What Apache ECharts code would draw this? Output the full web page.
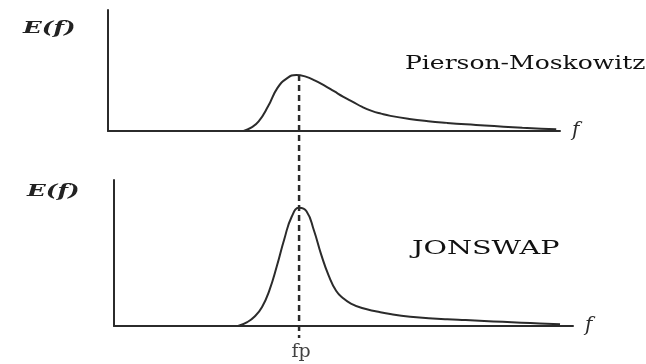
<!DOCTYPE html>
<html>
<head>
<meta charset="utf-8">
<script src="https://cdn.jsdelivr.net/npm/echarts@6/dist/echarts.min.js"></script>
<style>
  html, body { margin: 0; padding: 0; background: #fff; }
  #box { width: 646px; height: 364px; }
</style>
</head>
<body>
<div id="box"></div>
<script>
  // frequency in units of fp, energy in units of the PM peak
  const pmFreq = [0.72, 0.76, 0.80, 0.85, 0.90, 0.95, 1.00, 1.05, 1.10, 1.15, 1.20, 1.25, 1.30, 1.35, 1.40, 1.45, 1.50, 1.60, 1.70, 1.80, 1.90, 2.00, 2.10, 2.20, 2.30, 2.38]
  const pmEnergy = [0, 0.06, 0.17, 0.44, 0.77, 0.94, 1.0, 0.97, 0.90, 0.81, 0.71, 0.61, 0.52, 0.43, 0.36, 0.31, 0.27, 0.215, 0.175, 0.145, 0.12, 0.10, 0.078, 0.058, 0.042, 0.03]
  const jsFreq = [0.67, 0.72, 0.76, 0.80, 0.84, 0.88, 0.92, 0.96, 1.00, 1.04, 1.08, 1.12, 1.16, 1.20, 1.24, 1.28, 1.34, 1.42, 1.50, 1.60, 1.70, 1.80, 1.90, 2.00, 2.10, 2.20, 2.30, 2.41]
  const jsEnergy = [0, 0.07, 0.17, 0.34, 0.64, 1.07, 1.55, 1.95, 2.11, 2.05, 1.71, 1.27, 0.90, 0.63, 0.49, 0.40, 0.32, 0.26, 0.21, 0.166, 0.14, 0.12, 0.105, 0.09, 0.075, 0.06, 0.045, 0.03]
  const fp = 1.0
  const labels = ['Pierson-Moskowitz', 'JONSWAP']

  const ink = '#2b2b2b'
  let myChart = echarts.init(document.getElementById('box'))

  function pairs(xs, ys) {
    return xs.map((x, i) => [x, ys[i]])
  }

  function freqAxis(idx, max, show) {
    return {
      type: 'value', gridIndex: idx, min: 0, max: max,
      show: show,
      axisLine: { show: true, onZero: false, lineStyle: { color: ink, width: 2 } },
      axisTick: { show: false }, axisLabel: { show: false }, splitLine: { show: false },
      name: show ? 'f' : '', nameLocation: 'end', nameGap: 12,
      nameTextStyle: { fontFamily: 'DejaVu Serif', fontStyle: 'italic', fontSize: 20, color: ink, verticalAlign: 'middle' }
    }
  }
  function energyAxis(idx, max, show) {
    return {
      type: 'value', gridIndex: idx, min: 0, max: max,
      show: show,
      axisLine: { show: true, lineStyle: { color: ink, width: 2 } },
      axisTick: { show: false }, axisLabel: { show: false }, splitLine: { show: false }
    }
  }

  let option = {
    animation: false,
    grid: [
      { left: 108, top: 10, width: 452, height: 121 },
      { left: 114, top: 180, width: 459, height: 146 },
      { left: 114, top: 75, width: 459, height: 263 }
    ],
    xAxis: [freqAxis(0, 2.4, true), freqAxis(1, 2.48, true), freqAxis(2, 2.48, false)],
    yAxis: [energyAxis(0, 2.16, true), energyAxis(1, 2.607, true), energyAxis(2, 1, false)],
    series: [
      {
        type: 'line', xAxisIndex: 0, yAxisIndex: 0, smooth: 0.5, symbol: 'none',
        lineStyle: { color: ink, width: 2 },
        data: pairs(pmFreq, pmEnergy)
      },
      {
        type: 'line', xAxisIndex: 1, yAxisIndex: 1, smooth: 0.5, symbol: 'none',
        lineStyle: { color: ink, width: 2 },
        data: pairs(jsFreq, jsEnergy)
      },
      {
        type: 'line', xAxisIndex: 2, yAxisIndex: 2, symbol: 'none', z: 5,
        lineStyle: { color: ink, width: 2.5, type: [6, 4] },
        data: [[fp, 1], [fp, 0]]
      },
      {
        type: 'scatter', xAxisIndex: 2, yAxisIndex: 2, symbolSize: 0,
        label: {
          show: true, position: 'bottom', distance: 5, offset: [2, 0], formatter: 'fp',
          fontFamily: 'DejaVu Serif', fontSize: 19, color: '#111'
        },
        data: [[fp, 0]]
      }
    ],
    graphic: [
      { type: 'text', left: 23, top: 20, scaleX: 1.45,
        style: { text: 'E(f)', font: 'italic bold 17px "DejaVu Serif"', fill: '#222' } },
      { type: 'text', left: 27, top: 183, scaleX: 1.45,
        style: { text: 'E(f)', font: 'italic bold 17px "DejaVu Serif"', fill: '#222' } },
      { type: 'text', left: 405, top: 55, scaleX: 1.39,
        style: { text: labels[0], font: '18px "DejaVu Serif"', fill: '#111' } },
      { type: 'text', left: 412, top: 240, scaleX: 1.59,
        style: { text: labels[1], font: '18px "DejaVu Serif"', fill: '#111' } }
    ]
  }
  myChart.setOption(option)
</script>
</body>
</html>
